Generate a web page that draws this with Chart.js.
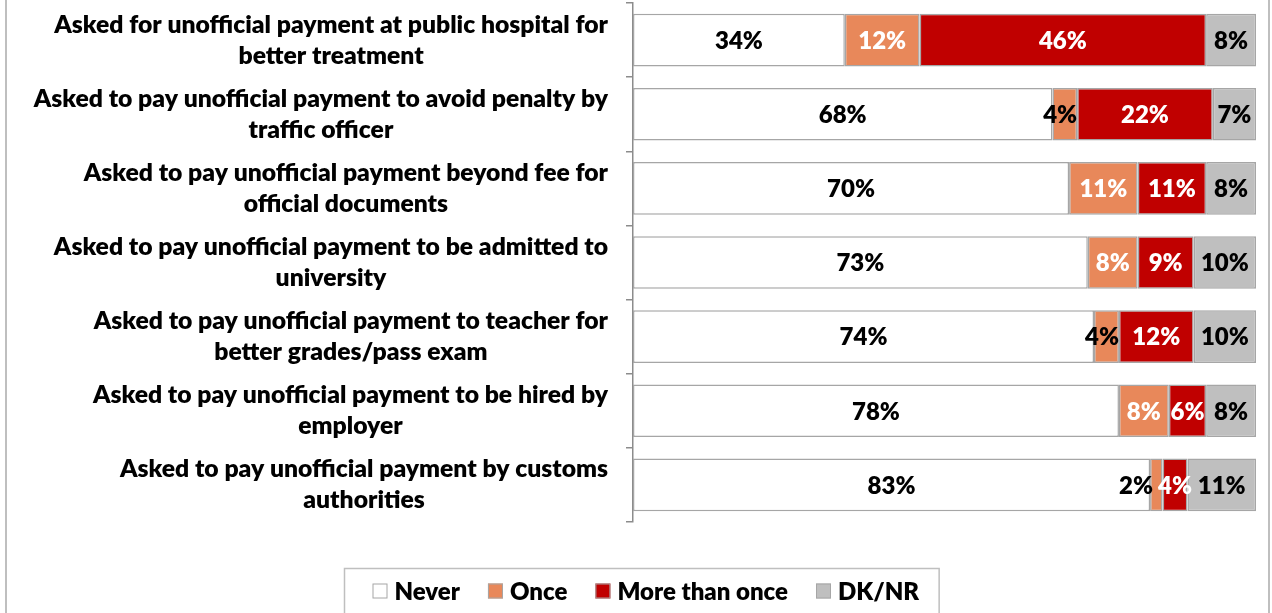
<!DOCTYPE html>
<html>
<head>
<meta charset="utf-8">
<script src="https://cdn.jsdelivr.net/npm/chart.js@4.4.0/dist/chart.umd.min.js"></script>
<style>
  body { margin: 0; background: #fff; }
  #wrap { width: 1272px; height: 613px; }
</style>
</head>
<body>
<div id="wrap"><canvas id="bribeChart" width="1272" height="613"></canvas></div>
<script>
// categories (each line of a wrapped label is its own entry)
var categories = [
    ['Asked for unofficial payment at public hospital for', 'better treatment'],
    ['Asked to pay unofficial payment to avoid penalty by', 'traffic officer'],
    ['Asked to pay unofficial payment beyond fee for', 'official documents'],
    ['Asked to pay unofficial payment to be admitted to', 'university'],
    ['Asked to pay unofficial payment to teacher for', 'better grades/pass exam'],
    ['Asked to pay unofficial payment to be hired by', 'employer'],
    ['Asked to pay unofficial payment by customs', 'authorities']
];

var seriesNames = ['Never', 'Once', 'More than once', 'DK/NR'];

// percentages shown on the bars
var never        = [34, 68, 70, 73, 74, 78, 83];
var once         = [12,  4, 11,  8,  4,  8,  2];
var moreThanOnce = [46, 22, 11,  9, 12,  6,  4];
var dkNr         = [ 8,  7,  8, 10, 10,  8, 11];

var seriesValues = [never, once, moreThanOnce, dkNr];
var fillColors  = ['#FFFFFF', '#E8885A', '#C00000', '#BFBFBF'];
var labelColors = ['#000000', '#FFFFFF', '#FFFFFF', '#000000'];

var FONT = '800 24px Lato, "Open Sans", sans-serif';
var CAT_FONT = '800 24.7px Lato, "Open Sans", sans-serif';
var EDGE = '#A6A6A6';

// 100% stacked: each row is scaled by its own total
var rowTotals = categories.map(function (c, i) {
    return seriesValues.reduce(function (s, arr) { return s + arr[i]; }, 0);
});

var datasets = seriesValues.map(function (arr, k) {
    return {
        label: seriesNames[k],
        data: arr.map(function (v, i) { return v / rowTotals[i] * 100; }),
        backgroundColor: fillColors[k],
        borderColor: EDGE,
        borderWidth: 1.5,
        borderSkipped: false,
        categoryPercentage: 1,
        barPercentage: 0.71
    };
});

// frame, category labels, value labels and legend
var decorPlugin = {
    id: 'decor',
    beforeDraw: function (chart) {
        var ctx = chart.ctx;
        ctx.save();
        ctx.strokeStyle = '#BFBFBF';
        ctx.lineWidth = 2;
        ctx.beginPath();
        ctx.moveTo(6, 0); ctx.lineTo(6, 613);
        ctx.moveTo(1269, 0); ctx.lineTo(1269, 613);
        ctx.stroke();
        ctx.restore();
    },
    afterDraw: function (chart) {
        var ctx = chart.ctx;
        var yScale = chart.scales.y;
        ctx.save();
        ctx.textBaseline = 'middle';

        // category labels: lines centred inside a block that sits right of the axis
        ctx.font = CAT_FONT;
        ctx.fillStyle = '#000';
        ctx.textAlign = 'center';
        categories.forEach(function (lines, i) {
            var yc = yScale.getPixelForValue(i);
            var blockW = Math.max.apply(null, lines.map(function (t) { return ctx.measureText(t).width; }));
            var cx = 608 - blockW / 2;
            var lh = 31;
            var y0 = yc - (lines.length - 1) * lh / 2;
            lines.forEach(function (t, j) { ctx.fillText(t, cx, y0 + j * lh); });
        });

        // value labels
        ctx.font = FONT;
        categories.forEach(function (c, i) {
            var items = seriesValues.map(function (arr, k) {
                var el = chart.getDatasetMeta(k).data[i];
                var left = Math.min(el.x, el.base), right = Math.max(el.x, el.base);
                var text = arr[i] + '%';
                var w = ctx.measureText(text).width;
                var item = { text: text, w: w, color: labelColors[k], y: el.y };
                if (k === 1 && w > right - left - 4) {
                    // narrow "Once" piece: dark label ending at the piece's right edge
                    item.color = '#000';
                    item.x1 = right;
                } else {
                    item.x1 = (left + right) / 2 + w / 2;
                }
                return item;
            });
            for (var k = items.length - 2; k >= 0; k--) {
                var nextStart = items[k + 1].x1 - items[k + 1].w;
                if (items[k].x1 > nextStart - 5) items[k].x1 = nextStart - 5;
            }
            ctx.textAlign = 'right';
            items.forEach(function (it) {
                ctx.fillStyle = it.color;
                ctx.fillText(it.text, it.x1, it.y + 1);
            });
        });

        // legend in a bordered box
        var box = 15, gap = 7, itemGap = 28;
        var widths = seriesNames.map(function (n) { return ctx.measureText(n).width; });
        var content = widths.reduce(function (s, w) { return s + box + gap + w; }, 0) + itemGap * (seriesNames.length - 1);
        var boxW = content + 48;
        var boxL = Math.round(641.5 - boxW / 2) + 0.5;
        ctx.strokeStyle = '#BFBFBF';
        ctx.lineWidth = 1.5;
        ctx.strokeRect(boxL, 568.5, boxW, 60);
        var x = boxL + 28, ly = 591;
        ctx.textAlign = 'left';
        seriesNames.forEach(function (n, k) {
            ctx.fillStyle = fillColors[k];
            ctx.fillRect(x, ly - box / 2, box, box);
            ctx.strokeStyle = '#A6A6A6';
            ctx.lineWidth = 1;
            ctx.strokeRect(x + 0.5, ly - box / 2 + 0.5, box - 1, box - 1);
            ctx.fillStyle = '#000';
            ctx.fillText(n, x + box + gap, ly + 1);
            x += box + gap + widths[k] + itemGap;
        });
        ctx.restore();
    }
};

var ctx = document.getElementById('bribeChart').getContext('2d');
var bribeChart = new Chart(ctx, {
    type: 'bar',
    data: {
        labels: categories,
        datasets: datasets
    },
    options: {
        indexAxis: 'y',
        responsive: false,
        animation: false,
        layout: { padding: { top: 3, bottom: 91, right: 16, left: 0 } },
        plugins: {
            legend: { display: false },
            tooltip: { enabled: false }
        },
        scales: {
            x: {
                stacked: true,
                display: false,
                min: 0,
                max: 100
            },
            y: {
                stacked: true,
                ticks: { display: false },
                grid: {
                    drawOnChartArea: false,
                    drawTicks: true,
                    tickLength: 7,
                    color: '#8C8C8C',
                    lineWidth: 1.5
                },
                border: { display: true, color: '#8C8C8C', width: 1.5 },
                afterFit: function (scale) { scale.width = 633; }
            }
        }
    },
    plugins: [decorPlugin]
});
</script>
</body>
</html>
